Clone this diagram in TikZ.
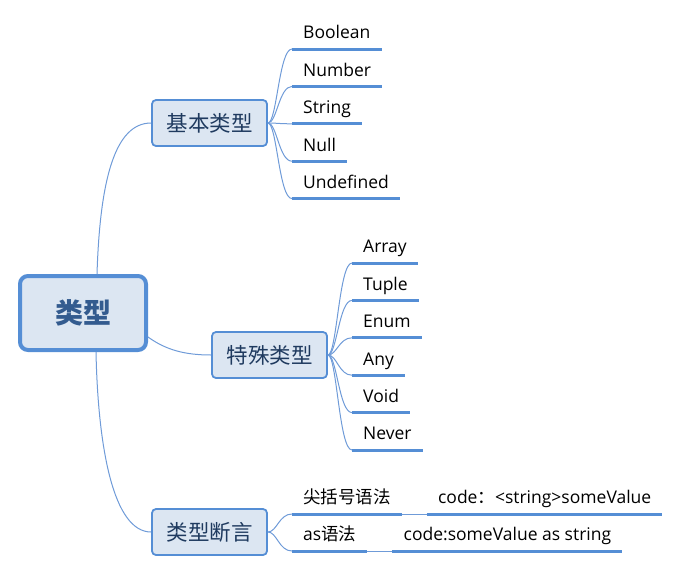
\documentclass[tikz,border=0pt]{standalone}
\usepackage{fontspec}
\setmainfont{Open Sans}
\newfontfamily\cjk{Noto Sans CJK SC}
\usepackage{xcolor}
\usepackage{tikz}
\usetikzlibrary{positioning}
\definecolor{mapblue}{HTML}{558ED5}
\definecolor{linkblue}{HTML}{6F9BD8}
\definecolor{boxfill}{HTML}{DCE6F2}
\definecolor{roottext}{HTML}{335B8F}
\definecolor{topictext}{HTML}{1F3A5F}

\begin{document}
\begin{tikzpicture}[
    x=1pt, y=-1pt,
    rootbox/.style={
        rectangle,
        draw=mapblue,
        fill=boxfill,
        line width=4pt,
        rounded corners=8pt,
        minimum width=126pt,
        minimum height=74pt,
        text=roottext,
        font=\fontsize{28}{30}\selectfont\cjk\bfseries
    },
    topicbox/.style={
        rectangle,
        draw=mapblue,
        fill=boxfill,
        line width=1.8pt,
        rounded corners=4pt,
        minimum width=115pt,
        minimum height=46pt,
        text=topictext,
        font=\fontsize{21.5}{24}\selectfont\cjk
    },
    leaf/.style={
        anchor=south west,
        inner xsep=11pt,
        inner ysep=6pt,
        text height=14pt,
        text depth=4pt,
        font=\fontsize{17.5}{20}\selectfont
    },
    uline/.style={line width=3pt, mapblue},
    branch/.style={line width=1pt, linkblue}
]
    \useasboundingbox (0,0) rectangle (685,573);

    % Root
    \node[rootbox] (root) at (83,313) {类型};

    % Topics
    \node[topicbox] (basic) at (209.5,123) {基本类型};
    \node[topicbox] (special) at (269.5,355) {特殊类型};
    \node[topicbox] (assert) at (209.5,532) {类型断言};

    % Basic types
    \node[leaf] (boolean) at (292,49) {Boolean};
    \node[leaf, below=7pt of boolean.south west, anchor=north west] (number) {Number};
    \node[leaf, below=7pt of number.south west, anchor=north west] (string) {String};
    \node[leaf, below=7pt of string.south west, anchor=north west] (null) {Null};
    \node[leaf, below=7pt of null.south west, anchor=north west] (undefined) {Undefined};

    % Special types
    \node[leaf] (array) at (352,263) {Array};
    \node[leaf, below=7pt of array.south west, anchor=north west] (tuple) {Tuple};
    \node[leaf, below=7pt of tuple.south west, anchor=north west] (enum) {Enum};
    \node[leaf, below=7pt of enum.south west, anchor=north west] (any) {Any};
    \node[leaf, below=7pt of any.south west, anchor=north west] (void) {Void};
    \node[leaf, below=7pt of void.south west, anchor=north west] (never) {Never};

    % Assertions
    \node[leaf] (angle) at (292,514) {\cjk 尖括号语法};
    \node[leaf, right=25pt of angle.south east, anchor=south west] (anglecode) {code{\cjk ：}<string>someValue};
    \node[leaf] (assyntax) at (292,551) {as{\cjk 语法}};
    \node[leaf, right=25pt of assyntax.south east, anchor=south west] (ascode) {code:someValue as string};

    % Root links
    \draw[branch] ([xshift=14pt]root.north) .. controls +(3,-95) and +(-36,0) .. (basic.west);
    \draw[branch] ([yshift=-24pt]root.east) .. controls +(18,13) and +(-26,0) .. (special.west);
    \draw[branch] ([xshift=13pt]root.south) .. controls +(2,95) and +(-38,0) .. (assert.west);

    % Topic links
    \foreach \leafname in {boolean, number, string, null, undefined}
        \draw[branch] (basic.east) .. controls +(9,0) and +(-13,0) .. (\leafname.south west);
    \foreach \leafname in {array, tuple, enum, any, void, never}
        \draw[branch] (special.east) .. controls +(9,0) and +(-13,0) .. (\leafname.south west);
    \foreach \leafname in {angle, assyntax}
        \draw[branch] (assert.east) .. controls +(9,0) and +(-13,0) .. (\leafname.south west);
    \draw[branch] (angle.south east) -- (anglecode.south west);
    \draw[branch] (assyntax.south east) -- (ascode.south west);

    % Underlines
    \foreach \leafname in {boolean, number, string, null, undefined,
                           array, tuple, enum, any, void, never,
                           angle, anglecode, assyntax, ascode}
        \draw[uline] (\leafname.south west) -- (\leafname.south east);
\end{tikzpicture}
\end{document}
